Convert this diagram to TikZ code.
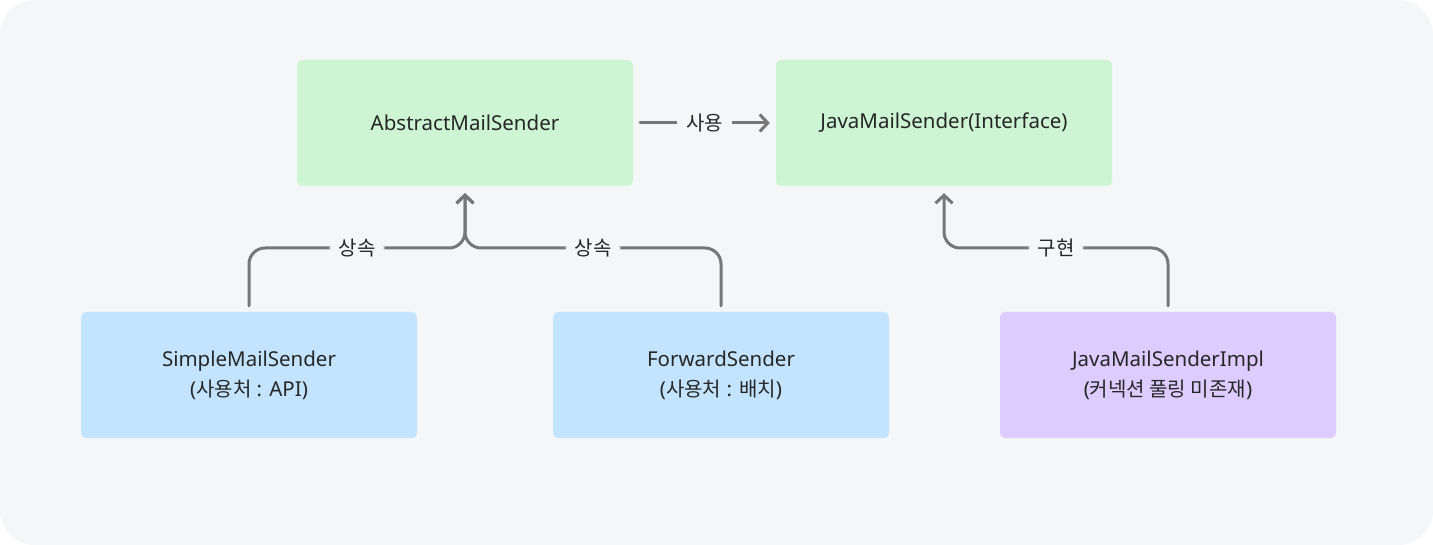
\documentclass[tikz,border=0pt]{standalone}
\usepackage{fontspec}
\setmainfont{Noto Sans}
\newfontfamily\kr{Noto Sans CJK KR}
\usetikzlibrary{arrows.meta}
\definecolor{sfondo}{HTML}{F5F6F8}
\definecolor{verde}{HTML}{CDF5D4}
\definecolor{azzurro}{HTML}{C2E4FF}
\definecolor{viola}{HTML}{DDCCFF}
\definecolor{grigio}{HTML}{777777}
\definecolor{testo}{HTML}{262626}
\begin{document}
\begin{tikzpicture}[x=1pt,y=-1pt,
    box/.style={rounded corners=5pt,minimum width=336pt,minimum height=126pt,
        align=center,text=testo,font=\fontsize{20.5}{30}\selectfont},
    conn/.style={draw=grigio,line width=3pt,line cap=round,
        -{Straight Barb[length=8pt,width=17pt,line width=3pt]}},
    lbl/.style={fill=sfondo,inner xsep=9pt,text=testo,font=\kr\fontsize{20}{22}\selectfont}]
    %sfondo
    \fill[white](0,0)rectangle(1433,545);
    \useasboundingbox(0,0)rectangle(1433,545);
    \fill[sfondo,rounded corners=35pt](0,0)rectangle(1433,545);

    %classi in alto
    \node[box,fill=verde](abstract)at(465,123){AbstractMailSender};
    \node[box,fill=verde](javamail)at(944,123){JavaMailSender(Interface)};
    %classi in basso
    \node[box,fill=azzurro](simple)at(249,375){SimpleMailSender\\({\kr\fontsize{20}{30}\selectfont 사용처} : API)};
    \node[box,fill=azzurro](forward)at(721,375){ForwardSender\\({\kr\fontsize{20}{30}\selectfont 사용처} : {\kr\fontsize{20}{30}\selectfont 배치})};
    \node[box,fill=viola](impl)at(1168,375){JavaMailSenderImpl\\({\kr\fontsize{20}{30}\selectfont 커넥션 풀링 미존재})};

    %uso
    \draw[conn,shorten <=7pt,shorten >=6pt](abstract)--node[lbl]{사용}(javamail);
    %ereditarieta
    \draw[conn,rounded corners=16pt,shorten <=6pt,shorten >=7pt]
        (simple.north)|-node[pos=0.75,lbl]{상속}(abstract.south|-0,248)--(abstract.south);
    \draw[conn,rounded corners=16pt,shorten <=6pt,shorten >=7pt]
        (forward.north)|-node[pos=0.75,lbl]{상속}(abstract.south|-0,248)--(abstract.south);
    %implementazione
    \draw[conn,rounded corners=16pt,shorten <=6pt,shorten >=7pt]
        (impl.north)|-node[pos=0.75,lbl]{구현}(javamail.south|-0,248)--(javamail.south);
\end{tikzpicture}
\end{document}
